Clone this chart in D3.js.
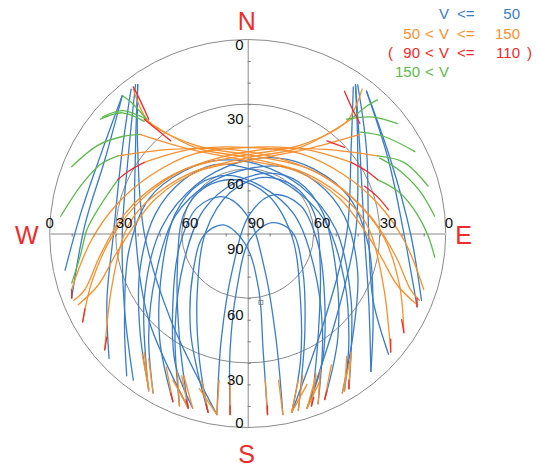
<!DOCTYPE html>
<html>
<head>
<meta charset="utf-8">
<script src="https://cdn.jsdelivr.net/npm/d3@7"></script>
<style>
  body { margin: 0; background: #fff; }
  text { font-family: "Liberation Sans", Arial, sans-serif; }
</style>
</head>
<body>
<script>
// Sky plot of satellite passes. Track points are sky-plane offsets in degrees
// from the zenith: [east, north]. 90 = horizon, 0 = zenith.

const elevRings = [0, 30, 60];
const hTickValues = [-90, -60, -30, 0, 30, 60, 90];
const hTickText = ["0", "30", "60", "90", "60", "30", "0"];
const vTickValues = [90, 60, 30, 0, -30, -60, -90];
const vTickText = ["0", "30", "60", "90", "60", "30", "0"];
const minorTicks = d3.range(-80, 90, 10);
const compass = [["N", 0, 90], ["S", 0, -90], ["W", -90, 0], ["E", 90, 0]];

const legendLo = ["", "50", "90", "150"];
const legendHi = ["50", "150", "110", ""];
const legendParen = [false, false, true, false];

const colors = { b: "#3a7cc6", o: "#f7902f", r: "#ee2a2a", g: "#5cb94c" };
const legendColors = [colors.b, colors.o, colors.r, colors.g];

// V <= 50
const blueTracks = [
    // passes starting low in the north-west
    [[-57, 64], [-67, 36], [-76, 9], [-83, -17]],
    [[-57, 64], [-65, 34], [-74, 4], [-80, -30]],
    [[-53, 67], [-57, 39], [-61, 0], [-64, -31], [-63, -58]],
    [[-51, 69], [-54, 39], [-57, 0], [-56, -35], [-52, -68]],
    [[-50, 69], [-51, 39], [-51, 0], [-45, -40], [-27, -81]],
    [[-50, 69], [-50, 39], [-47, 0], [-35, -40], [-14, -84]],
    // passes starting low in the north-east
    [[54, 66], [65, 34], [74, 0], [79, -31]],
    [[54, 66], [64, 34], [71, 0], [77, -34]],
    [[50, 69], [54, 39], [55, 0], [57, -31], [64, -56]],
    [[49, 69], [51, 39], [53, 0], [55, -31], [56, -64]],
    [[48, 68], [47, 39], [45, 0], [35, -40], [20, -83]],
    [[49, 69], [50, 39], [49, 0], [40, -40], [27, -81]],
    // high passes, rising and setting in the south
    [[-45, -72], [-49, -45], [-49, -17], [-42, 9], [-29, 25], [-15, 32], [1, 30], [19, 22], [35, 6], [44, -22], [46, -49], [44, -73]],
    [[-34, -78], [-40, -49], [-39, -17], [-33, 9], [-22, 23], [-9, 27], [6, 22], [21, 9], [30, -15], [34, -45], [32, -79]],
    [[-27, -81], [-31, -49], [-32, -17], [-29, 9], [-20, 21], [-6, 25], [9, 18], [20, -1], [24, -31], [24, -59], [20, -83]],
    [[-55, -66], [-56, -40], [-54, -8], [-45, 16], [-29, 29], [-13, 34], [5, 32], [24, 22], [40, 2], [47, -31], [46, -72]],
    [[43, -74], [48, -46], [50, -18], [44, 8], [31, 24], [16, 31], [0, 30], [-18, 23], [-33, 8], [-42, -20], [-45, -47], [-43, -74]],
    [[35, -77], [41, -48], [40, -16], [34, 10], [23, 24], [10, 28], [-5, 24], [-20, 11], [-29, -13], [-33, -44], [-31, -80]],
    [[29, -80], [32, -48], [33, -16], [30, 10], [21, 22], [7, 26], [-8, 19], [-19, 1], [-23, -29], [-22, -58], [-18, -83]],
    [[56, -64], [57, -38], [55, -6], [46, 17], [30, 30], [14, 35], [-4, 33], [-23, 23], [-39, 3], [-47, -30], [-45, -73]],
    [[-8, -84], [-8, -54], [-5, -26], [1, -3], [11, 5], [20, 1], [25, -17], [26, -45], [23, -82]],
    [[9, -84], [7, -54], [5, -26], [-1, -5], [-11, 4], [-20, -1], [-25, -19], [-26, -45], [-23, -63], [-18, -83]],
    [[-14, -84], [-12, -49], [-7, -17], [1, 9], [12, 18], [24, 13], [32, -5], [35, -31], [34, -59], [27, -81]],
    [[16, -84], [13, -50], [8, -18], [0, 8], [-11, 17], [-23, 12], [-31, -6], [-34, -32], [-33, -60], [-25, -81]]
];

// 50 < V <= 150
const orangeTracks = [
    [[-52, 67], [-45, 52], [-24, 41], [3, 36], [28, 30], [47, 17], [62, -2], [69, -24], [71, -46]],
    [[-47, 53], [-24, 40], [1, 35], [26, 28], [42, 18], [51, 9], [56, 0], [62, -26], [65, -55]],
    [[-49, 46], [-26, 39], [-1, 34], [22, 29], [42, 16], [59, -8], [68, -24], [77, -33]],
    [[-59, 36], [-35, 39], [-8, 39], [17, 34], [37, 25], [55, 9], [67, -10], [74, -26], [78, -31]],
    [[-47, 33], [-26, 39], [-1, 40], [24, 37], [44, 27], [60, 13], [71, -3], [77, -17], [80, -26]],
    [[52, 67], [45, 52], [24, 41], [-3, 36], [-28, 30], [-47, 17], [-62, -2], [-71, -23], [-75, -41]],
    [[47, 53], [24, 40], [-1, 35], [-26, 28], [-42, 18], [-51, 9], [-56, 0], [-62, -26], [-65, -54]],
    [[51, 46], [26, 39], [1, 34], [-22, 29], [-42, 16], [-59, -8], [-68, -24], [-77, -33]],
    [[59, 36], [35, 39], [8, 39], [-17, 34], [-38, 25], [-56, 9], [-67, -10], [-74, -26], [-79, -31]],
    [[47, 33], [26, 39], [1, 40], [-24, 37], [-44, 27], [-60, 13], [-71, -3], [-77, -17], [-80, -26]],
    // low ends of the high passes
    [[-45, -72], [-48, -56]], [[44, -73], [45, -57]],
    [[-34, -78], [-37, -62]], [[32, -79], [33, -63]],
    [[-27, -81], [-30, -66]], [[20, -83], [23, -68]],
    [[46, -72], [47, -55]],
    [[43, -74], [47, -57]], [[-43, -74], [-45, -58]],
    [[35, -77], [38, -61]], [[-31, -80], [-32, -64]],
    [[29, -80], [31, -65]], [[-18, -83], [-21, -68]],
    [[-45, -73], [-47, -55]],
    [[-8, -84], [-8, -68]], [[23, -82], [25, -66]],
    [[9, -84], [8, -68]],
    [[-14, -84], [-13, -68]], [[27, -81], [31, -66]],
    [[16, -84], [14, -68]], [[-25, -81], [-29, -66]],
    [[-27, -81], [-34, -68]], [[-14, -84], [-22, -72]],
    [[20, -83], [27, -70]], [[27, -81], [33, -68]]
];

// 90 < V <= 110
const redTracks = [
    [[-47, 53], [-41, 48], [-35, 43]],
    [[-59, 25], [-54, 29], [-47, 33]],
    [[59, 25], [54, 29], [47, 33]],
    [[-52, 68], [-49, 62], [-45, 53]],
    [[44, 66], [47, 59], [51, 51]],
    [[36, 43], [44, 40]],
    [[53, 22], [59, 17], [64, 11]],
    [[-34, -78], [-35, -74]], [[-27, -81], [-28, -77]], [[-18, -83], [-19, -79]],
    [[-8, -84], [-8, -80]], [[9, -84], [9, -80]], [[35, -77], [36, -73]],
    [[46, -72], [46, -68]], [[29, -80], [30, -76]],
    [[71, -46], [70, -40]], [[65, -55], [65, -49]],
    [[-75, -41], [-74, -35]], [[-65, -54], [-64, -48]],
    [[77, -34], [77, -30]], [[-80, -30], [-80, -26]]
];

// 150 < V
const greenTracks = [
    [[-57, 64], [-52, 60], [-46, 53]],
    [[-66, 54], [-57, 57], [-46, 53]],
    [[-67, 53], [-57, 56], [-47, 52]],
    [[-80, 31], [-68, 41], [-57, 45], [-49, 46]],
    [[-85, 8], [-76, 22], [-67, 32], [-59, 36]],
    [[-80, -23], [-76, -10], [-73, 2], [-67, 13], [-59, 25]],
    [[59, 62], [54, 59], [47, 53]],
    [[68, 51], [57, 54], [45, 53]],
    [[76, 38], [62, 45], [51, 47]],
    [[82, 22], [71, 33], [59, 36]],
    [[85, 8], [78, 20], [68, 30], [60, 35]],
    [[85, -11], [82, -1], [77, 9], [69, 19], [59, 25]]
];

const marker = [6, -32];

// Layout
const W = 539, H = 466;
const cx = 247.7, cy = 233.5, rx = 198, ry = 194;

const svg = d3.select("body").append("svg")
    .attr("width", W)
    .attr("height", H);

const x = d3.scaleLinear().domain([-90, 90]).range([cx - rx, cx + rx]);
const y = d3.scaleLinear().domain([-90, 90]).range([cy + ry, cy - ry]);

// Elevation rings
svg.append("g").selectAll("ellipse")
    .data(elevRings)
    .join("ellipse")
    .attr("cx", x(0))
    .attr("cy", y(0))
    .attr("rx", d => x(90 - d) - x(0))
    .attr("ry", d => y(0) - y(90 - d))
    .attr("fill", "none")
    .attr("stroke", "#8a8a8a")
    .attr("stroke-width", 1);

// Axes through the zenith
const hAxis = svg.append("g")
    .attr("transform", `translate(0,${y(0)})`)
    .call(d3.axisBottom(x).tickValues(minorTicks).tickSize(3).tickSizeOuter(0).tickFormat(""));
hAxis.select(".domain").attr("stroke", "#c4c4c4").attr("stroke-width", 2);
hAxis.selectAll(".tick line").attr("stroke", "#777");

const vAxis = svg.append("g")
    .attr("transform", `translate(${x(0)},0)`)
    .call(d3.axisRight(y).tickValues(minorTicks).tickSize(3).tickSizeOuter(0).tickFormat(""));
vAxis.select(".domain").attr("stroke", "#8a8a8a").attr("stroke-width", 1);
vAxis.selectAll(".tick line").attr("stroke", "#777");

// Tracks
const line = d3.line()
    .x(d => x(d[0]))
    .y(d => y(d[1]))
    .curve(d3.curveCatmullRom.alpha(0.5));

function drawTracks(data, color) {
    svg.append("g").selectAll("path")
        .data(data)
        .join("path")
        .attr("d", line)
        .attr("fill", "none")
        .attr("stroke", color)
        .attr("stroke-width", 1.3)
        .attr("stroke-linecap", "round");
}
drawTracks(blueTracks, colors.b);
drawTracks(orangeTracks, colors.o);
drawTracks(greenTracks, colors.g);
drawTracks(redTracks, colors.r);

svg.append("rect")
    .attr("x", x(marker[0]) - 2)
    .attr("y", y(marker[1]) - 2)
    .attr("width", 4)
    .attr("height", 4)
    .attr("fill", "none")
    .attr("stroke", "#777")
    .attr("stroke-width", 0.8);

// Elevation labels
svg.append("g").selectAll("text")
    .data(hTickValues)
    .join("text")
    .attr("x", d => d === 90 ? x(d) - 1 : x(d))
    .attr("y", y(0) - 6)
    .attr("text-anchor", d => d === -90 ? "middle" : "start")
    .attr("font-size", 15)
    .attr("fill", "#111")
    .text((d, i) => hTickText[i]);

svg.append("g").selectAll("text")
    .data(vTickValues)
    .join("text")
    .attr("x", x(0) - 4)
    .attr("y", d => d === 90 ? y(d) + 10 : d === -90 ? y(d) : y(d) + (d < 0 ? 22 : 20))
    .attr("text-anchor", "end")
    .attr("font-size", 15)
    .attr("fill", "#111")
    .text((d, i) => vTickText[i]);

// Compass points
svg.append("g").selectAll("text")
    .data(compass)
    .join("text")
    .attr("x", d => d[0] === "W" ? x(d[1]) - 23 : d[0] === "E" ? x(d[1]) + 18 : x(d[1]) - 1)
    .attr("y", d => d[0] === "N" ? y(d[2]) - 10 : d[0] === "S" ? y(d[2]) + 35 : y(d[2]) + 10)
    .attr("text-anchor", "middle")
    .attr("font-size", 25)
    .attr("fill", "#ef2b2b")
    .text(d => d[0]);

// Legend
const legend = svg.append("g").attr("font-size", 15);
legendLo.forEach((lo, i) => {
    const row = legend.append("g")
        .attr("fill", legendColors[i])
        .attr("transform", `translate(0,${19.3 + i * 19.3})`);
    if (lo) row.append("text").attr("x", 420).attr("text-anchor", "end").text(lo);
    if (lo) row.append("text").attr("x", 425).text("<");
    row.append("text").attr("x", 439).text("V");
    if (legendHi[i]) {
        row.append("text").attr("x", 457).text("<=");
        row.append("text").attr("x", 520).attr("text-anchor", "end").text(legendHi[i]);
    }
    if (legendParen[i]) {
        row.append("text").attr("x", 388).text("(");
        row.append("text").attr("x", 527).text(")");
    }
});
</script>
</body>
</html>
